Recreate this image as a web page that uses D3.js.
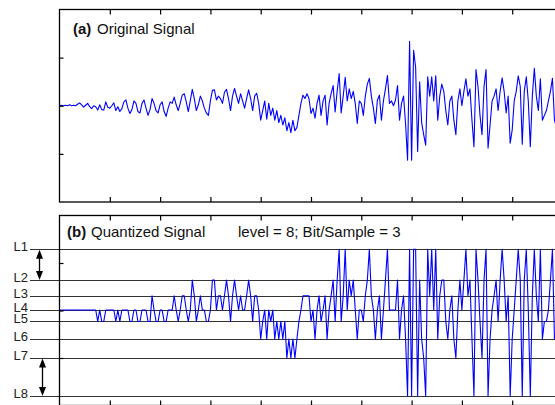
<!DOCTYPE html>
<html><head><meta charset="utf-8">
<script src="https://cdn.jsdelivr.net/npm/d3@7"></script>
<style>html,body{margin:0;padding:0;background:#fff;} svg{display:block;font-family:"Liberation Sans",Arial,sans-serif;}</style>
</head><body><svg id="chart" width="555" height="405"></svg>
<script>
// ---- data ----
const sampleStep = 0.04;
const originalSignal = [
 0,0.01,0,0.01,0,0.02,0,0.01,0,
 0.03,0.06,0.02,-0.03,0.01,0.05,-0.02,-0.06,0.0,-0.02,-0.09,0.02,-0.08,-0.09,0.08,-0.03,-0.05,0.0,0.06,-0.1,-0.02,
 -0.12,-0.06,0.08,0.12,-0.05,-0.16,-0.08,0.1,0.05,-0.12,-0.15,
 0.05,0.12,-0.05,-0.2,-0.08,0.15,0.05,-0.1,-0.15,0.02,0.08,-0.12,-0.22,-0.05,0.08,0.05,0.18,0.02,-0.1,0.05,
 0.22,0.25,0.08,-0.12,0.1,0.34,0.15,-0.1,0.02,0.2,0.1,-0.05,-0.15,-0.2,0.1,0.32,0.33,0.12,0.2,0.15,0.05,0.28,
 0.34,0.15,-0.1,0.2,0.36,0.2,0.05,0.25,0.1,-0.05,0.15,0.33,0.15,-0.1,0.2,0.26,0.05,
 -0.3,-0.1,0.1,-0.28,0.05,-0.2,-0.05,-0.3,-0.1,-0.35,-0.2,-0.4,-0.25,-0.52,-0.35,-0.56,-0.3,-0.52,-0.45,-0.2,
 0.05,0.22,0.15,0.25,
 0.15,-0.16,-0.05,-0.26,0.05,0.22,-0.2,0.1,0.22,-0.4,0.05,0.25,0.42,-0.13,0.3,0.67,-0.15,0.2,0.59,0.1,
 0.35,0.15,0.3,0.05,-0.37,0.1,0.05,-0.2,0.2,0.45,0.57,0.2,-0.05,-0.37,0.12,0.22,-0.3,0.1,0.35,0.63,
 0.05,0.1,0.0,0.12,0.42,-0.3,0.05,0.2,-0.37,
 -1.13,1.34,-1.13,1.15,0.8,-0.95,0.5,-0.35,-0.6,-0.82,0.6,0.2,0.6,0.1,0.62,-0.3,0.2,0.45,0.3,-0.1,
 -0.4,0.1,0.2,-0.3,-0.6,0.1,0.35,0.0,0.3,0.56,0.2,0.35,-0.3,-0.85,0.75,0.4,-0.2,-0.6,0.4,0.75,
 -0.88,-0.4,0.1,0.2,0.35,-0.1,0.3,0.58,0.3,-0.15,0.2,-0.78,-0.5,0.1,0.3,0.62,0.4,-0.8,0.3,0.6,
 0.1,-0.85,0.2,0.78,0.2,-0.1,0.56,-0.3,-0.2,-0.1,0.1,0.3,0.57,-0.3,-0.45,0.0,0.2
];
const levelLabels = ["L1","L2","L3","L4","L5","L6","L7","L8"];
const levelValues = [1.29,0.64,0.31,0.01,-0.23,-0.6,-1.0,-1.8];
const levelThresholds = [-0.75,-0.5,-0.25,-0.07,0.13,0.3,0.55];
const xTickValues = [1,2,3,4,5,6,7,8,9];
const yTickValues = [-1,0,1];
const panelLetters = ["(a)","(b)"];
const panelNames = ["Original Signal","Quantized Signal"];
const annotationText = "level = 8; Bit/Sample = 3";

// ---- drawing ----
const svg = d3.select("#chart");
const left = 59.5, right = 562.5;
const x = d3.scaleLinear().domain([0,10]).range([left, right]);
const panels = [
  {top: 9.5, bottom: 202},
  {top: 215.5, bottom: 405.5}
];
const ys = panels.map(p => d3.scaleLinear().domain([-2,2]).range([p.bottom, p.top]));

const quantize = d3.scaleThreshold().domain(levelThresholds).range(levelValues.slice().reverse());
const signalPts = originalSignal.map((v,i) => ({t: i*sampleStep, v}));
const quantPts = originalSignal.map((v,i) => ({t: i*sampleStep, v: quantize(v)}));

const defs = svg.append("defs");
panels.forEach((p,k) => {
  defs.append("clipPath").attr("id","clip"+k).append("rect")
    .attr("x", left).attr("y", p.top).attr("width", right-left).attr("height", p.bottom-p.top);
});

// level lines (panel b)
const yb = ys[1];
const gl = svg.append("g");
gl.selectAll("line.lvl").data(levelValues).join("line")
  .attr("x1", 30).attr("x2", 560)
  .attr("y1", d => Math.round(yb(d))+0.5).attr("y2", d => Math.round(yb(d))+0.5)
  .attr("stroke", "#333").attr("stroke-width", 1);
gl.selectAll("text.lvl").data(levelLabels).join("text")
  .attr("x", 28).attr("y", (d,i) => Math.round(yb(levelValues[i]))+1.5)
  .attr("text-anchor","end").attr("font-size", 13).attr("fill","#222")
  .text(d => d);

// double arrows
function dblArrow(xp, y1, y2){
  const g = svg.append("g");
  const hl = 9, hw = 3.5;
  g.append("line").attr("x1",xp).attr("x2",xp).attr("y1",y1+hl-1).attr("y2",y2-hl+1)
    .attr("stroke","#000").attr("stroke-width",1.3);
  g.append("path").attr("d",`M${xp},${y1}L${xp-hw},${y1+hl}L${xp+hw},${y1+hl}Z`).attr("fill","#000");
  g.append("path").attr("d",`M${xp},${y2}L${xp-hw},${y2-hl}L${xp+hw},${y2-hl}Z`).attr("fill","#000");
}
dblArrow(39.5, yb(levelValues[0])+0.5, yb(levelValues[1]));
dblArrow(42.5, yb(levelValues[6])+0.5, yb(levelValues[7]));

// signal lines
const series = [signalPts, quantPts];
series.forEach((pts,k) => {
  const line = d3.line().x(d => x(d.t)).y(d => ys[k](d.v));
  svg.append("path").datum(pts)
    .attr("clip-path", `url(#clip${k})`)
    .attr("d", line).attr("fill","none").attr("stroke","#0000ff")
    .attr("stroke-width", 1.1).attr("stroke-linejoin","round");
});

// frames and ticks
panels.forEach((p,k) => {
  svg.append("rect").attr("x", left).attr("y", p.top)
    .attr("width", right-left).attr("height", p.bottom-p.top)
    .attr("fill","none").attr("stroke","#000").attr("stroke-width",1.3);
  const topAx = svg.append("g").attr("transform",`translate(0,${p.top})`)
    .call(d3.axisBottom(x).tickValues(xTickValues).tickSize(5).tickFormat(""));
  const botAx = svg.append("g").attr("transform",`translate(0,${p.bottom})`)
    .call(d3.axisTop(x).tickValues(xTickValues).tickSize(5).tickFormat(""));
  const leftAx = svg.append("g").attr("transform",`translate(${left},0)`)
    .call(d3.axisRight(ys[k]).tickValues(yTickValues).tickSize(4).tickFormat(""));
  [topAx, botAx, leftAx].forEach(a => {
    a.select(".domain").remove();
    a.selectAll("line").attr("stroke","#000").attr("stroke-width",1.2);
  });
});

// titles
const titlePos = [{x:73, y:34, nx:97}, {x:67, y:237, nx:91}];
titlePos.forEach((tp,k) => {
  svg.append("text").attr("x", tp.x).attr("y", tp.y).attr("font-size", 15)
    .attr("font-weight","bold").attr("fill","#111").text(panelLetters[k]);
  svg.append("text").attr("x", tp.nx).attr("y", tp.y).attr("font-size", 15)
    .attr("fill","#111").text(panelNames[k]);
});
svg.append("text").attr("x", 238).attr("y", 237).attr("font-size", 15)
  .attr("fill","#111").text(annotationText);
</script>
</body></html>
